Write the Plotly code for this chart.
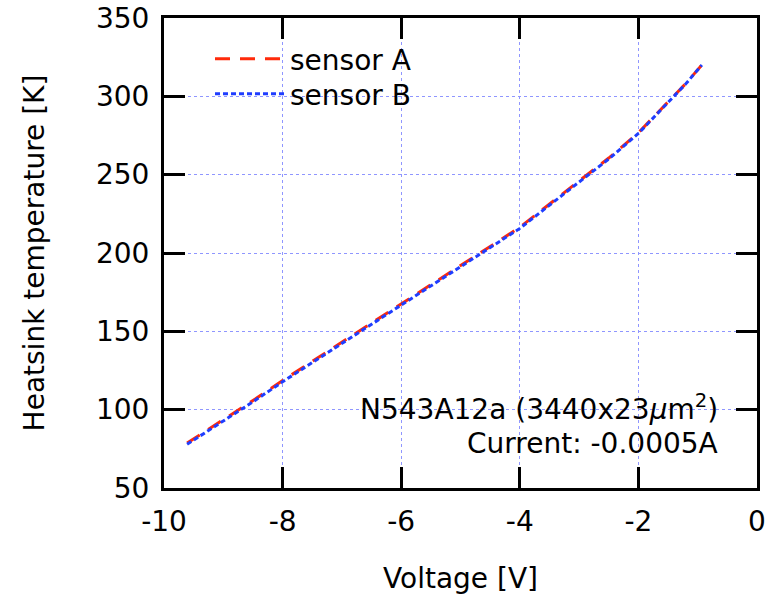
import plotly.graph_objects as go

voltage_a = [-9.61, -9.0, -8.5, -8.0, -7.0, -6.0, -5.0, -4.0, -3.0, -2.5, -2.0, -1.5, -1.2, -0.93]
temp_a = [78.7, 93.3, 105.8, 118.6, 143.0, 167.6, 192.2, 216.4, 246.0, 260.6, 276.8, 296.4, 308.2, 320.0]
voltage_b = [-9.61, -9.0, -8.5, -8.0, -7.0, -6.0, -5.0, -4.0, -3.0, -2.5, -2.0, -1.5, -1.2, -0.93]
temp_b = [77.9, 92.5, 105.0, 117.8, 142.2, 166.8, 191.4, 215.7, 245.3, 260.0, 276.3, 296.0, 308.0, 320.0]

x_ticks = [-10, -8, -6, -4, -2, 0]
y_ticks = [50, 100, 150, 200, 250, 300, 350]

FONT = "DejaVu Sans"
FS = 28

fig = go.Figure()
fig.add_trace(go.Scatter(x=voltage_a, y=temp_a, mode="lines", name="sensor A", legend="legend",
                         showlegend=True,
                         line=dict(color="#ff2a0a", width=3, dash="15px,10px")))
fig.add_trace(go.Scatter(x=voltage_b, y=temp_b, mode="lines", name="sensor B", legend="legend2",
                         showlegend=True,
                         line=dict(color="#1f3dff", width=3, dash="5px,3px")))

axis_common = dict(showline=True, linecolor="black", linewidth=3, mirror="ticks",
                   ticks="inside", ticklen=21, tickwidth=3, tickcolor="black",
                   showgrid=True, gridcolor="#8f96ff", griddash="dot", gridwidth=1,
                   zeroline=False, automargin=False,
                   tickfont=dict(family=FONT, size=FS, color="black"))

fig.update_xaxes(range=[-10, 0], tickvals=x_ticks, ticktext=[str(v) for v in x_ticks],
                 title=dict(text="Voltage [V]", font=dict(family=FONT, size=FS, color="black"), standoff=32),
                 ticklabelstandoff=6, **axis_common)
fig.update_yaxes(range=[50, 350], tickvals=y_ticks, ticktext=[str(v) for v in y_ticks],
                 title=dict(text="Heatsink temperature [K]", font=dict(family=FONT, size=FS, color="black"), standoff=44),
                 ticklabelstandoff=6, **axis_common)

fig.add_annotation(xref="x", yref="y", x=-0.62, y=101.5, xanchor="right", yanchor="middle",
                   text="N543A12a (3440x23<i>μ</i>m<sup>2</sup>)", showarrow=False,
                   font=dict(family=FONT, size=FS, color="black"))
fig.add_annotation(xref="x", yref="y", x=-0.62, y=78.7, xanchor="right", yanchor="middle",
                   text="Current: -0.0005A", showarrow=False,
                   font=dict(family=FONT, size=FS, color="black"))

legend_common = dict(x=(210 - 164) / 593, xanchor="left", yanchor="top",
                     bgcolor="rgba(0,0,0,0)", itemwidth=70, visible=True,
                     font=dict(family=FONT, size=FS, color="black"))

fig.update_layout(width=769, height=605, plot_bgcolor="white", paper_bgcolor="white",
                  showlegend=True,
                  margin=dict(l=164, r=12, t=18, b=117, autoexpand=False),
                  font=dict(family=FONT, size=FS, color="black"),
                  legend=dict(y=(488 - 34) / 470, **legend_common),
                  legend2=dict(y=(488 - 69) / 470, **legend_common))

fig.write_html("out.html")
